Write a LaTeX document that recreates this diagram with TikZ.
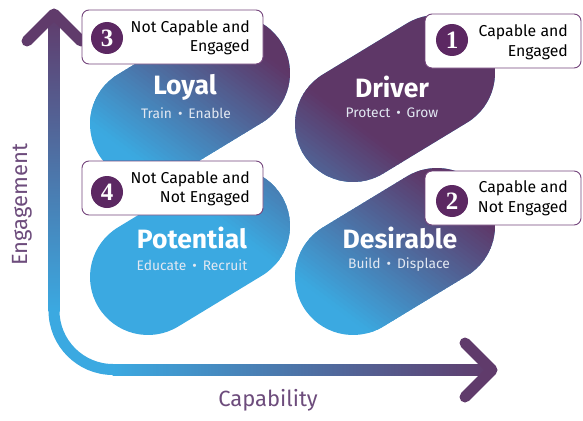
\documentclass[tikz,border=0pt]{standalone}
\usepackage{fontspec}
\setmainfont{Fira Sans}
\newfontfamily\numfont{Liberation Serif}
\definecolor{pblue}{HTML}{3BA9E1}
\definecolor{ppurple}{HTML}{5E3767}
\definecolor{axblue}{HTML}{3BA9E1}
\definecolor{axpurple}{HTML}{603B6B}
\definecolor{boxline}{HTML}{74457C}
\definecolor{numfill}{HTML}{5C2862}
\definecolor{labcol}{HTML}{6D4C7C}
\definecolor{subcol}{HTML}{E2E8F2}
\tikzset{
  pill/.style 2 args={insert path={(#1,#2) ++(58.74:58) -- ++(84,-51)
      arc[start angle=58.74, end angle=-121.26, radius=58] -- ++(-84,51)
      arc[start angle=-121.26, end angle=-301.26, radius=58] -- cycle}},
  infobox/.style={draw=boxline, line width=0.9pt, fill=white, rounded corners=7pt},
  numcirc/.style={circle, fill=numfill, minimum size=32pt, inner sep=0pt, text=white,
      font=\numfont\bfseries\fontsize{25}{25}\selectfont},
  boxtext/.style={align=right, anchor=east, inner sep=0pt, text=black,
      font=\fontsize{15.8}{19.5}\selectfont},
  pilltitle/.style={text=white, inner sep=0pt, font=\bfseries\fontsize{26.5}{26.5}\selectfont},
  pillsub/.style={text=subcol, inner sep=0pt, font=\fontsize{13.8}{13.8}\selectfont},
  axislabel/.style={text=labcol, inner sep=0pt, font=\fontsize{22}{22}\selectfont},
  axline/.style={line width=11pt, line cap=round, line join=round}
}
\begin{document}
\begin{tikzpicture}[x=1pt, y=-1pt]
\useasboundingbox (0,0) rectangle (583,420);
% pills with common diagonal gradient
\begin{scope}
  \path[clip, pill={148}{124}, pill={353}{124}, pill={148}{277}, pill={353}{277}];
  \fill[pblue] (0,0) rectangle (583,420);
  \foreach \i in {0,...,39} {
    \pgfmathsetmacro\ta{-45+4*\i}
    \pgfmathsetmacro\tb{\ta+5}
    \pgfmathsetmacro\p{(\i+0.5)*2.5}
    \fill[ppurple!\p!pblue] ({0.6*\ta-640},{-0.8*\ta-480}) -- ({0.6*\ta+640},{-0.8*\ta+480})
      -- ({0.6*\tb+640},{-0.8*\tb+480}) -- ({0.6*\tb-640},{-0.8*\tb-480}) -- cycle;
  }
  \fill[ppurple] ({0.6*115-640},{-0.8*115-480}) -- ({0.6*115+640},{-0.8*115+480})
      -- ({0.6*1000+640},{-0.8*1000+480}) -- ({0.6*1000-640},{-0.8*1000-480}) -- cycle;
\end{scope}
% axes
\coordinate (vtip) at (54,14);
\coordinate (htip) at (492,370);
\coordinate (vl) at (27,41);
\coordinate (vr) at (81,41);
\coordinate (hu) at (465,343);
\coordinate (hd) at (465,397);
\shade[top color=axpurple, bottom color=axblue] (48.5,14) rectangle (59.5,311);
\draw[axblue, line width=11pt] (54,310.5) arc[start angle=180, end angle=90, radius=59];
\shade[left color=axblue, right color=axpurple] (112.5,364.5) rectangle (492,375.5);
\draw[axline, axpurple] (vl) -- (vtip) -- (vr);
\draw[axline, axpurple] (hu) -- (htip) -- (hd);
% boxes
\draw[infobox] (82,10) rectangle (263,64);
\draw[infobox] (82,161) rectangle (263,215);
\draw[infobox] (425,14) rectangle (581,68);
\draw[infobox] (425,171) rectangle (581,225);
\node[numcirc] (n3) at (107,38) {3};
\node[numcirc] (n4) at (107,192) {4};
\node[numcirc] (n1) at (452,40) {1};
\node[numcirc] (n2) at (452,201) {2};
\node[boxtext] (t3) at (250,38) {Not Capable and\\Engaged};
\node[boxtext] (t4) at (250,189) {Not Capable and\\Not Engaged};
\node[boxtext] (t1) at (568,42.5) {Capable and\\Engaged};
\node[boxtext] (t2) at (568,198.5) {Capable and\\Not Engaged};
% pill labels
\node[pilltitle] (loyal) at (185,87) {Loyal};
\node[pillsub] (loyalsub) at (186,113) {Train \,•\, Enable};
\node[pilltitle] (driver) at (392,87) {Driver};
\node[pillsub] (driversub) at (392,113) {Protect \,•\, Grow};
\node[pilltitle] (potential) at (192,238) {Potential};
\node[pillsub] (potentialsub) at (192,265) {Educate \,•\, Recruit};
\node[pilltitle] (desirable) at (400,238) {Desirable};
\node[pillsub] (desirablesub) at (399,265) {Build \,•\, Displace};
% axis labels
\node[axislabel, rotate=90] (eng) at (22,205) {Engagement};
\node[axislabel] (cap) at (268,400) {Capability};
\end{tikzpicture}
\end{document}
